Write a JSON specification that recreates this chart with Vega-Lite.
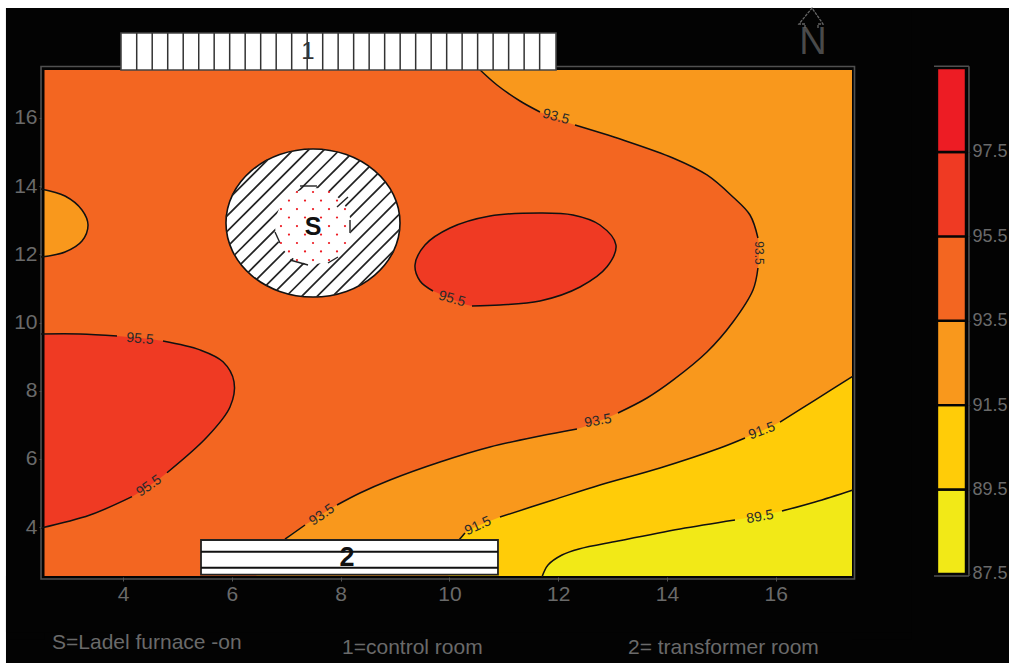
{
"$schema":"https://vega.github.io/schema/vega-lite/v6.json",
"width":1009,"height":663,"autosize":{"type":"none"},"padding":0,"background":"#ffffff",
"config":{"view":{"stroke":null},"font":"Liberation Sans"},
"datasets":{
"shapes":[
{"region":"a","band":"91.5-93.5","i":1,"x":10.379,"y":18.2},
{"region":"a","band":"91.5-93.5","i":2,"x":10.526,"y":17.465,"seg":"a1"},
{"region":"a","band":"91.5-93.5","i":3,"x":10.875,"y":16.967,"seg":"a1"},
{"region":"a","band":"91.5-93.5","i":4,"x":11.298,"y":16.497,"seg":"a1"},
{"region":"a","band":"91.5-93.5","i":5,"x":11.665,"y":16.175,"seg":"a1"},
{"region":"a","band":"91.5-93.5","i":6,"x":12.309,"y":15.793,"seg":"a2"},
{"region":"a","band":"91.5-93.5","i":7,"x":13.191,"y":15.353,"seg":"a2"},
{"region":"a","band":"91.5-93.5","i":8,"x":14.11,"y":14.825,"seg":"a2"},
{"region":"a","band":"91.5-93.5","i":9,"x":14.735,"y":14.327,"seg":"a2"},
{"region":"a","band":"91.5-93.5","i":10,"x":15.213,"y":13.681,"seg":"a2"},
{"region":"a","band":"91.5-93.5","i":11,"x":15.526,"y":13.153,"seg":"a2"},
{"region":"a","band":"91.5-93.5","i":12,"x":15.672,"y":12.479,"seg":"a2"},
{"region":"a","band":"91.5-93.5","i":13,"x":15.69,"y":12.038},
{"region":"a","band":"91.5-93.5","i":14,"x":15.672,"y":11.598,"seg":"a3"},
{"region":"a","band":"91.5-93.5","i":15,"x":15.581,"y":10.953,"seg":"a3"},
{"region":"a","band":"91.5-93.5","i":16,"x":15.213,"y":10.014,"seg":"a3"},
{"region":"a","band":"91.5-93.5","i":17,"x":14.735,"y":9.134,"seg":"a3"},
{"region":"a","band":"91.5-93.5","i":18,"x":14.11,"y":8.308,"seg":"a3"},
{"region":"a","band":"91.5-93.5","i":19,"x":13.632,"y":7.785,"seg":"a3"},
{"region":"a","band":"91.5-93.5","i":20,"x":13.099,"y":7.345,"seg":"a3"},
{"region":"a","band":"91.5-93.5","i":21,"x":12.345,"y":6.876,"seg":"a4"},
{"region":"a","band":"91.5-93.5","i":22,"x":11.665,"y":6.67,"seg":"a4"},
{"region":"a","band":"91.5-93.5","i":23,"x":10.746,"y":6.348,"seg":"a4"},
{"region":"a","band":"91.5-93.5","i":24,"x":9.827,"y":5.908,"seg":"a4"},
{"region":"a","band":"91.5-93.5","i":25,"x":8.908,"y":5.38,"seg":"a4"},
{"region":"a","band":"91.5-93.5","i":26,"x":8.357,"y":4.999,"seg":"a4"},
{"region":"a","band":"91.5-93.5","i":27,"x":7.934,"y":4.646,"seg":"a4"},
{"region":"a","band":"91.5-93.5","i":28,"x":7.346,"y":4.06,"seg":"a5"},
{"region":"a","band":"91.5-93.5","i":29,"x":6.978,"y":3.649,"seg":"a5"},
{"region":"a","band":"91.5-93.5","i":30,"x":6.426,"y":2.153},
{"region":"a","band":"91.5-93.5","i":31,"x":12.768,"y":1.947},
{"region":"a","band":"91.5-93.5","i":32,"x":17.731,"y":1.9},
{"region":"a","band":"91.5-93.5","i":33,"x":17.731,"y":9},
{"region":"a","band":"91.5-93.5","i":34,"x":17.731,"y":18.2},
{"region":"a","band":"91.5-93.5","i":35,"x":12.768,"y":18.2},
{"region":"b","band":"89.5-91.5","i":1,"x":9.919,"y":2.153},
{"region":"b","band":"89.5-91.5","i":2,"x":10.176,"y":3.62,"seg":"b1"},
{"region":"b","band":"89.5-91.5","i":3,"x":10.287,"y":3.825,"seg":"b1"},
{"region":"b","band":"89.5-91.5","i":4,"x":10.93,"y":4.294,"seg":"b2"},
{"region":"b","band":"89.5-91.5","i":5,"x":11.904,"y":4.793,"seg":"b2"},
{"region":"b","band":"89.5-91.5","i":6,"x":12.768,"y":5.233,"seg":"b2"},
{"region":"b","band":"89.5-91.5","i":7,"x":13.871,"y":5.732,"seg":"b2"},
{"region":"b","band":"89.5-91.5","i":8,"x":14.974,"y":6.318,"seg":"b2"},
{"region":"b","band":"89.5-91.5","i":9,"x":15.434,"y":6.612,"seg":"b2"},
{"region":"b","band":"89.5-91.5","i":10,"x":16.077,"y":7.081,"seg":"b3"},
{"region":"b","band":"89.5-91.5","i":11,"x":16.721,"y":7.726,"seg":"b3"},
{"region":"b","band":"89.5-91.5","i":12,"x":17.419,"y":8.43,"seg":"b3"},
{"region":"b","band":"89.5-91.5","i":13,"x":17.731,"y":8.75},
{"region":"b","band":"89.5-91.5","i":14,"x":17.731,"y":1.9},
{"region":"b","band":"89.5-91.5","i":15,"x":12.768,"y":1.9},
{"region":"c","band":"87.5-89.5","i":1,"x":11.573,"y":2.153},
{"region":"c","band":"87.5-89.5","i":2,"x":11.702,"y":2.534,"seg":"c1"},
{"region":"c","band":"87.5-89.5","i":3,"x":11.813,"y":2.886,"seg":"c1"},
{"region":"c","band":"87.5-89.5","i":4,"x":12.07,"y":3.179,"seg":"c1"},
{"region":"c","band":"87.5-89.5","i":5,"x":12.382,"y":3.356,"seg":"c1"},
{"region":"c","band":"87.5-89.5","i":6,"x":13.099,"y":3.59,"seg":"c1"},
{"region":"c","band":"87.5-89.5","i":7,"x":14.239,"y":3.942,"seg":"c1"},
{"region":"c","band":"87.5-89.5","i":8,"x":15.25,"y":4.206,"seg":"c1"},
{"region":"c","band":"87.5-89.5","i":9,"x":16.114,"y":4.47,"seg":"c2"},
{"region":"c","band":"87.5-89.5","i":10,"x":16.721,"y":4.734,"seg":"c2"},
{"region":"c","band":"87.5-89.5","i":11,"x":17.419,"y":5.086,"seg":"c2"},
{"region":"c","band":"87.5-89.5","i":12,"x":17.731,"y":5.25},
{"region":"c","band":"87.5-89.5","i":13,"x":17.731,"y":1.9},
{"region":"c","band":"87.5-89.5","i":14,"x":14,"y":1.9},
{"region":"d","band":"91.5-93.5","i":1,"x":2.199,"y":13.916},
{"region":"d","band":"91.5-93.5","i":2,"x":2.493,"y":13.916,"seg":"d"},
{"region":"d","band":"91.5-93.5","i":3,"x":2.934,"y":13.71,"seg":"d"},
{"region":"d","band":"91.5-93.5","i":4,"x":3.246,"y":13.3,"seg":"d"},
{"region":"d","band":"91.5-93.5","i":5,"x":3.357,"y":12.86,"seg":"d"},
{"region":"d","band":"91.5-93.5","i":6,"x":3.246,"y":12.39,"seg":"d"},
{"region":"d","band":"91.5-93.5","i":7,"x":2.934,"y":12.068,"seg":"d"},
{"region":"d","band":"91.5-93.5","i":8,"x":2.493,"y":11.921,"seg":"d"},
{"region":"d","band":"91.5-93.5","i":9,"x":2.199,"y":11.921},
{"region":"e","band":"95.5-97.5","i":1,"x":2.199,"y":9.662},
{"region":"e","band":"95.5-97.5","i":2,"x":2.493,"y":9.662,"seg":"e1"},
{"region":"e","band":"95.5-97.5","i":3,"x":3.21,"y":9.662,"seg":"e1"},
{"region":"e","band":"95.5-97.5","i":4,"x":3.89,"y":9.604,"seg":"e1"},
{"region":"e","band":"95.5-97.5","i":5,"x":4.735,"y":9.457,"seg":"e2"},
{"region":"e","band":"95.5-97.5","i":6,"x":5.415,"y":9.197,"seg":"e2"},
{"region":"e","band":"95.5-97.5","i":7,"x":5.838,"y":8.848,"seg":"e2"},
{"region":"e","band":"95.5-97.5","i":8,"x":6.041,"y":8.261,"seg":"e2"},
{"region":"e","band":"95.5-97.5","i":9,"x":5.967,"y":7.521,"seg":"e2"},
{"region":"e","band":"95.5-97.5","i":10,"x":5.544,"y":6.64,"seg":"e2"},
{"region":"e","band":"95.5-97.5","i":11,"x":4.809,"y":5.594,"seg":"e2"},
{"region":"e","band":"95.5-97.5","i":12,"x":4.165,"y":4.891,"seg":"e3"},
{"region":"e","band":"95.5-97.5","i":13,"x":3.393,"y":4.353,"seg":"e3"},
{"region":"e","band":"95.5-97.5","i":14,"x":2.493,"y":3.972,"seg":"e3"},
{"region":"e","band":"95.5-97.5","i":15,"x":2.199,"y":3.8},
{"region":"f","band":"95.5-97.5","i":1,"x":9.699,"y":10.924,"seg":"f"},
{"region":"f","band":"95.5-97.5","i":2,"x":9.46,"y":11.217,"seg":"f"},
{"region":"f","band":"95.5-97.5","i":3,"x":9.368,"y":11.686,"seg":"f"},
{"region":"f","band":"95.5-97.5","i":4,"x":9.551,"y":12.273,"seg":"f"},
{"region":"f","band":"95.5-97.5","i":5,"x":10.011,"y":12.772,"seg":"f"},
{"region":"f","band":"95.5-97.5","i":6,"x":10.746,"y":13.124,"seg":"f"},
{"region":"f","band":"95.5-97.5","i":7,"x":11.665,"y":13.212,"seg":"f"},
{"region":"f","band":"95.5-97.5","i":8,"x":12.272,"y":13.153,"seg":"f"},
{"region":"f","band":"95.5-97.5","i":9,"x":12.768,"y":12.86,"seg":"f"},
{"region":"f","band":"95.5-97.5","i":10,"x":13.062,"y":12.273,"seg":"f"},
{"region":"f","band":"95.5-97.5","i":11,"x":12.897,"y":11.633,"seg":"f"},
{"region":"f","band":"95.5-97.5","i":12,"x":12.401,"y":11.041,"seg":"f"},
{"region":"f","band":"95.5-97.5","i":13,"x":11.665,"y":10.63,"seg":"f"},
{"region":"f","band":"95.5-97.5","i":14,"x":10.93,"y":10.513,"seg":"f"},
{"region":"f","band":"95.5-97.5","i":15,"x":10.415,"y":10.484,"seg":"f"},
{"region":"f","band":"95.5-97.5","i":16,"x":10.048,"y":10.689}
],
"outerCircle":[
{"i":1,"x":9.092,"y":12.918},{"i":2,"x":8.971,"y":12.088},{"i":3,"x":8.623,"y":11.384},{"i":4,"x":8.105,"y":10.912},
{"i":5,"x":7.493,"y":10.748},{"i":6,"x":6.881,"y":10.912},{"i":7,"x":6.362,"y":11.384},{"i":8,"x":6.015,"y":12.088},
{"i":9,"x":5.893,"y":12.918},{"i":10,"x":6.015,"y":13.749},{"i":11,"x":6.362,"y":14.453},{"i":12,"x":6.881,"y":14.925},
{"i":13,"x":7.493,"y":15.089},{"i":14,"x":8.105,"y":14.925},{"i":15,"x":8.623,"y":14.453},{"i":16,"x":8.971,"y":13.749}
],
"innerCircle":[
{"i":1,"x":8.192,"y":12.83},{"i":2,"x":8.098,"y":13.387},{"i":3,"x":7.842,"y":13.795},{"i":4,"x":7.493,"y":13.945},
{"i":5,"x":7.144,"y":13.795},{"i":6,"x":6.888,"y":13.387},{"i":7,"x":6.795,"y":12.83},{"i":8,"x":6.888,"y":12.273},
{"i":9,"x":7.144,"y":11.865},{"i":10,"x":7.493,"y":11.715},{"i":11,"x":7.842,"y":11.865},{"i":12,"x":8.098,"y":12.273}
],
"hatch":[
{"x":6.456,"y":11.264,"x2":8.529,"y2":14.573},{"x":6.632,"y":11.091,"x2":8.684,"y2":14.365},
{"x":6.827,"y":10.947,"x2":8.82,"y2":14.127},{"x":7.042,"y":10.836,"x2":8.936,"y2":13.857},
{"x":7.285,"y":10.768,"x2":9.024,"y2":13.543},{"x":7.559,"y":10.751,"x2":9.081,"y2":13.18},
{"x":7.884,"y":10.815,"x2":9.086,"y2":12.734},{"x":8.327,"y":11.068,"x2":8.974,"y2":12.1},
{"x":6.301,"y":11.472,"x2":8.353,"y2":14.746},{"x":6.165,"y":11.71,"x2":8.158,"y2":14.89},
{"x":6.05,"y":11.98,"x2":7.943,"y2":15.001},{"x":5.961,"y":12.294,"x2":7.7,"y2":15.069},
{"x":5.904,"y":12.657,"x2":7.426,"y2":15.086},{"x":5.899,"y":13.103,"x2":7.101,"y2":15.022},
{"x":6.011,"y":13.737,"x2":6.658,"y2":14.769}
],
"ring":[
{"x":7.254,"y":14.004,"x2":7.566,"y2":14.004},{"x":7.934,"y":13.388,"x2":8.136,"y2":13.681},
{"x":8.173,"y":13.006,"x2":8.173,"y2":12.625},{"x":6.794,"y":12.654,"x2":6.886,"y2":12.332},
{"x":7.07,"y":11.833,"x2":7.401,"y2":11.686},{"x":7.768,"y":11.745,"x2":7.952,"y2":11.921}
],
"dots":[
{"x":7.198,"y":13.828},{"x":7.493,"y":13.828},{"x":7.787,"y":13.828},
{"x":7.051,"y":13.578},{"x":7.346,"y":13.578},{"x":7.64,"y":13.578},{"x":7.934,"y":13.578},
{"x":6.904,"y":13.329},{"x":7.198,"y":13.329},{"x":7.493,"y":13.329},{"x":7.787,"y":13.329},{"x":8.081,"y":13.329},
{"x":7.051,"y":13.08},{"x":7.346,"y":13.08},{"x":7.64,"y":13.08},{"x":7.934,"y":13.08},
{"x":6.904,"y":12.83},{"x":7.198,"y":12.83},{"x":7.493,"y":12.83},{"x":7.787,"y":12.83},{"x":8.081,"y":12.83},
{"x":7.051,"y":12.581},{"x":7.346,"y":12.581},{"x":7.64,"y":12.581},{"x":7.934,"y":12.581},
{"x":6.904,"y":12.332},{"x":7.198,"y":12.332},{"x":7.493,"y":12.332},{"x":7.787,"y":12.332},{"x":8.081,"y":12.332},
{"x":7.051,"y":12.083},{"x":7.346,"y":12.083},{"x":7.64,"y":12.083},{"x":7.934,"y":12.083},
{"x":7.198,"y":11.833},{"x":7.493,"y":11.833},{"x":7.787,"y":11.833}
],
"room1lines":[
{"x":4.252,"y":17.407,"y2":18.492},{"x":4.537,"y":17.407,"y2":18.492},{"x":4.822,"y":17.407,"y2":18.492},{"x":5.107,"y":17.407,"y2":18.492},
{"x":5.392,"y":17.407,"y2":18.492},{"x":5.676,"y":17.407,"y2":18.492},{"x":5.961,"y":17.407,"y2":18.492},{"x":6.246,"y":17.407,"y2":18.492},
{"x":6.531,"y":17.407,"y2":18.492},{"x":6.816,"y":17.407,"y2":18.492},{"x":7.101,"y":17.407,"y2":18.492},{"x":7.386,"y":17.407,"y2":18.492},
{"x":7.671,"y":17.407,"y2":18.492},{"x":7.955,"y":17.407,"y2":18.492},{"x":8.24,"y":17.407,"y2":18.492},{"x":8.525,"y":17.407,"y2":18.492},
{"x":8.81,"y":17.407,"y2":18.492},{"x":9.095,"y":17.407,"y2":18.492},{"x":9.38,"y":17.407,"y2":18.492},{"x":9.665,"y":17.407,"y2":18.492},
{"x":9.95,"y":17.407,"y2":18.492},{"x":10.234,"y":17.407,"y2":18.492},{"x":10.519,"y":17.407,"y2":18.492},{"x":10.804,"y":17.407,"y2":18.492},
{"x":11.089,"y":17.407,"y2":18.492},{"x":11.374,"y":17.407,"y2":18.492},{"x":11.659,"y":17.407,"y2":18.492}
],
"arrow":[
{"i":1,"x":16.537,"y":18.639},{"i":2,"x":16.537,"y":18.756},{"i":3,"x":16.426,"y":18.756},{"i":4,"x":16.666,"y":19.225},
{"i":5,"x":16.868,"y":18.756},{"i":6,"x":16.776,"y":18.756},{"i":7,"x":16.776,"y":18.639}
]
},
"encoding":{"x":{"field":"x","type":"quantitative","title":null,
  "scale":{"domain":[1.739,20.287],"nice":false,"zero":false},
  "axis":{"orient":"bottom","offset":-86,"values":[4,6,8,10,12,14,16],"domain":false,"grid":false,"zindex":1,
    "labelColor":"#6a6a6a","labelFontSize":21,"labelPadding":2,"tickColor":"#555555","tickSize":4,"labelFont":"Liberation Sans"}}},
"layer":[
{
"encoding":{"y":{"field":"y","type":"quantitative","title":null,
  "scale":{"domain":[0.012,19.46],"nice":false,"zero":false},
  "axis":{"orient":"left","offset":-41,"values":[4,6,8,10,12,14,16],"domain":false,"grid":false,"zindex":1,
    "labelColor":"#6a6a6a","labelFontSize":21,"labelPadding":2,"tickColor":"#555555","tickSize":2,"labelFont":"Liberation Sans"}}},
"layer":[
{"data":{"values":[{"x":1.849,"x2":20.287,"y":0.012,"y2":19.225}]},"mark":{"type":"rect","fill":"#030303"},
 "encoding":{"x2":{"field":"x2"},"y2":{"field":"y2"}}},
{"data":{"values":[{"x":2.4,"x2":17.6,"y":2.3,"y2":17.7,"band":"93.5-95.5"}]},"mark":{"type":"rect"},
 "encoding":{"x2":{"field":"x2"},"y2":{"field":"y2"},"fill":{"field":"band","type":"nominal","legend":null,
   "scale":{"domain":["87.5-89.5","89.5-91.5","91.5-93.5","93.5-95.5","95.5-97.5","97.5-99.5"],"range":["#F2E917","#FFCC08","#F9981C","#F36621","#EF3A23","#ED1C24"]}}}},
{"data":{"name":"shapes"},"mark":{"type":"line","interpolate":"catmull-rom","strokeWidth":0},
 "encoding":{"order":{"field":"i"},"detail":{"field":"region"},"fill":{"field":"band","type":"nominal","legend":null}}},
{"data":{"values":[
  {"x":1.849,"x2":2.557,"y":0.7,"y2":19.225},{"x":17.401,"x2":18.5,"y":0.7,"y2":19.225},
  {"x":1.849,"x2":18.5,"y":17.407,"y2":19.225},{"x":1.849,"x2":18.5,"y":0.9,"y2":2.563}]},
 "mark":{"type":"rect","fill":"#030303"},"encoding":{"x2":{"field":"x2"},"y2":{"field":"y2"}}},
{"data":{"values":[{"x":2.493,"x2":17.447,"y":2.475,"y2":17.509}]},"mark":{"type":"rect","fill":null,"fillOpacity":0,"stroke":"#505050","strokeWidth":1.6},
 "encoding":{"x2":{"field":"x2"},"y2":{"field":"y2"}}},
{"data":{"name":"shapes"},"transform":[{"filter":"datum.seg"}],"mark":{"type":"line","interpolate":"catmull-rom","stroke":"#111111","strokeWidth":1.5},
 "encoding":{"order":{"field":"i"},"detail":{"field":"seg"}}},
{"data":{"values":[{"x":11.96,"y":16.028,"t":"93.5"},{"x":10.048,"y":10.689,"t":"95.5"}]},"mark":{"type":"text","angle":15,"fontSize":14,"fill":"#2a2a2a"},"encoding":{"text":{"field":"t"}}},
{"data":{"values":[{"x":15.69,"y":12.038,"t":"93.5"}]},"mark":{"type":"text","angle":90,"fontSize":12,"fill":"#2a2a2a"},"encoding":{"text":{"field":"t"}}},
{"data":{"values":[{"x":4.313,"y":9.516,"t":"95.5"}]},"mark":{"type":"text","angle":5,"fontSize":14,"fill":"#2a2a2a"},"encoding":{"text":{"field":"t"}}},
{"data":{"values":[{"x":4.478,"y":5.204,"t":"95.5"},{"x":7.658,"y":4.353,"t":"93.5"}]},"mark":{"type":"text","angle":325,"fontSize":14,"fill":"#2a2a2a"},"encoding":{"text":{"field":"t"}}},
{"data":{"values":[{"x":12.732,"y":7.11,"t":"93.5"},{"x":15.709,"y":4.294,"t":"89.5"}]},"mark":{"type":"text","angle":350,"fontSize":14,"fill":"#2a2a2a"},"encoding":{"text":{"field":"t"}}},
{"data":{"values":[{"x":10.526,"y":4.03,"t":"91.5"}]},"mark":{"type":"text","angle":335,"fontSize":14,"fill":"#2a2a2a"},"encoding":{"text":{"field":"t"}}},
{"data":{"values":[{"x":15.746,"y":6.817,"t":"91.5"}]},"mark":{"type":"text","angle":340,"fontSize":14,"fill":"#2a2a2a"},"encoding":{"text":{"field":"t"}}},
{"data":{"name":"outerCircle"},"mark":{"type":"line","interpolate":"cardinal-closed","fill":"#ffffff","stroke":"#111111","strokeWidth":1.6},"encoding":{"order":{"field":"i"}}},
{"data":{"name":"hatch"},"mark":{"type":"rule","stroke":"#222222","strokeWidth":1.7},"encoding":{"x2":{"field":"x2"},"y2":{"field":"y2"}}},
{"data":{"name":"innerCircle"},"mark":{"type":"line","interpolate":"cardinal-closed","fill":"#ffffff","strokeWidth":0},"encoding":{"order":{"field":"i"}}},
{"data":{"name":"ring"},"mark":{"type":"rule","stroke":"#222222","strokeWidth":1.4},"encoding":{"x2":{"field":"x2"},"y2":{"field":"y2"}}},
{"data":{"name":"dots"},"mark":{"type":"point","filled":true,"size":5,"color":"#ED1C24","opacity":1}},
{"data":{"values":[{"x":7.493,"y":12.801,"t":"S"}]},"mark":{"type":"text","fontSize":25,"fontWeight":"bold","fill":"#111111"},"encoding":{"text":{"field":"t"}}},
{"data":{"values":[{"x":3.963,"x2":11.96,"y":17.407,"y2":18.492}]},"mark":{"type":"rect","fill":"#ffffff","stroke":"#444444","strokeWidth":1.6},"encoding":{"x2":{"field":"x2"},"y2":{"field":"y2"}}},
{"data":{"name":"room1lines"},"mark":{"type":"rule","stroke":"#333333","strokeWidth":1.5},"encoding":{"y2":{"field":"y2"}}},
{"data":{"values":[{"x":7.401,"y":17.935,"t":"1"}]},"mark":{"type":"text","fontSize":24,"fill":"#333333"},"encoding":{"text":{"field":"t"}}},
{"data":{"values":[{"x":5.434,"x2":10.893,"y":2.604,"y2":3.62}]},"mark":{"type":"rect","fill":"#ffffff","stroke":"#222222","strokeWidth":1.8},"encoding":{"x2":{"field":"x2"},"y2":{"field":"y2"}}},
{"data":{"values":[{"y":3.278,"x":5.434,"x2":10.893},{"y":2.809,"x":5.434,"x2":10.893}]},"mark":{"type":"rule","stroke":"#111111","strokeWidth":2},"encoding":{"x2":{"field":"x2"}}},
{"data":{"values":[{"x":8.118,"y":3.092,"t":"2"}]},"mark":{"type":"text","fontSize":27,"fontWeight":"bold","fill":"#111111"},"encoding":{"text":{"field":"t"}}},
{"data":{"values":[{"x":2.695,"y":0.597,"t":"S=Ladel furnace -on"},{"x":8.026,"y":0.451,"t":"1=control room"},{"x":13.283,"y":0.451,"t":"2= transformer room"}]},"mark":{"type":"text","align":"left","fontSize":21,"fill":"#6a6a6a"},"encoding":{"text":{"field":"t"}}},
{"data":{"values":[{"x":16.684,"y":18.2,"t":"N"}]},"mark":{"type":"text","fontSize":38,"fill":"#4a4a4a"},"encoding":{"text":{"field":"t"}}},
{"data":{"name":"arrow"},"mark":{"type":"line","stroke":"#666666","strokeWidth":1.3,"strokeDash":[3,1]},"encoding":{"order":{"field":"i"}}}
]
},
{
"encoding":{"y":{"field":"lo","type":"quantitative","title":null,
  "scale":{"domain":[85.39,101.1],"nice":false,"zero":false},
  "axis":{"orient":"right","offset":-41,"values":[87.5,89.5,91.5,93.5,95.5,97.5],"format":".1f","domain":false,"grid":false,"zindex":1,
    "labelColor":"#6a6a6a","labelFontSize":18,"labelPadding":2,"tickColor":"#333333","tickSize":2,"labelFont":"Liberation Sans"}}},
"layer":[
{"data":{"values":[
  {"x":18.963,"x2":19.496,"lo":87.5,"hi":89.5,"band":"87.5-89.5"},{"x":18.963,"x2":19.496,"lo":89.5,"hi":91.5,"band":"89.5-91.5"},
  {"x":18.963,"x2":19.496,"lo":91.5,"hi":93.5,"band":"91.5-93.5"},{"x":18.963,"x2":19.496,"lo":93.5,"hi":95.5,"band":"93.5-95.5"},
  {"x":18.963,"x2":19.496,"lo":95.5,"hi":97.5,"band":"95.5-97.5"},{"x":18.963,"x2":19.496,"lo":97.5,"hi":99.49,"band":"97.5-99.5"}]},
 "mark":{"type":"rect","stroke":"#050505","strokeWidth":2.4},
 "encoding":{"x2":{"field":"x2"},"y2":{"field":"hi"},"fill":{"field":"band","type":"nominal","legend":null}}},
{"data":{"values":[
  {"x":18.908,"x2":19.551,"lo":99.53,"hi":99.53},{"x":19.551,"x2":19.551,"lo":87.45,"hi":99.53},{"x":18.908,"x2":19.551,"lo":87.45,"hi":87.45}]},
 "mark":{"type":"rule","stroke":"#505050","strokeWidth":1.6},
 "encoding":{"x2":{"field":"x2"},"y2":{"field":"hi"}}}
]
}
],
"resolve":{"scale":{"y":"independent"}}
}
